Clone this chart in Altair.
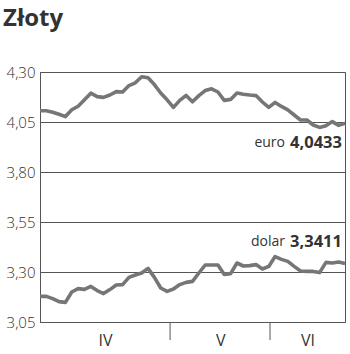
import altair as alt
import pandas as pd

euro = [4.106, 4.106, 4.099, 4.089, 4.077, 4.111, 4.129, 4.161, 4.194, 4.177,
        4.173, 4.185, 4.202, 4.200, 4.232, 4.246, 4.276, 4.271, 4.237, 4.195,
        4.161, 4.123, 4.158, 4.183, 4.151, 4.182, 4.207, 4.216, 4.200, 4.158,
        4.163, 4.195, 4.189, 4.185, 4.182, 4.150, 4.123, 4.148, 4.128, 4.111,
        4.085, 4.060, 4.060, 4.035, 4.023, 4.031, 4.052, 4.033, 4.043]
dolar = [3.178, 3.178, 3.167, 3.152, 3.148, 3.200, 3.217, 3.213, 3.228, 3.207,
         3.192, 3.212, 3.235, 3.237, 3.273, 3.285, 3.295, 3.318, 3.273, 3.220,
         3.203, 3.215, 3.237, 3.248, 3.253, 3.295, 3.335, 3.335, 3.335, 3.288,
         3.292, 3.345, 3.330, 3.332, 3.337, 3.315, 3.328, 3.377, 3.363, 3.353,
         3.328, 3.305, 3.303, 3.303, 3.297, 3.348, 3.345, 3.350, 3.343]
months = ["IV", "V", "VI"]
month_centers = [10.24, 28.35, 42.1]
month_bounds = [20.47, 36.2]
y_ticks = [3.05, 3.30, 3.55, 3.80, 4.05, 4.30]
title_text = "Złoty"

rows = []
for i, v in enumerate(euro):
    rows.append({"day": i, "kurs": v, "waluta": "euro"})
for i, v in enumerate(dolar):
    rows.append({"day": i, "kurs": v, "waluta": "dolar"})
df = pd.DataFrame(rows)

FONT = "Open Sans"

xscale = alt.Scale(domain=[0, 48], nice=False, zero=False)
yscale = alt.Scale(domain=[3.05, 4.30], nice=False, zero=False)

lines = alt.Chart(df).mark_line(color="#767676", strokeWidth=3.6, strokeJoin="round").encode(
    x=alt.X("day:Q", scale=xscale,
            axis=alt.Axis(values=month_centers, title=None, grid=False, domain=False,
                          ticks=False, labelPadding=10, labelFontSize=16,
                          labelColor="#333", labelFont=FONT, labelBaseline="top",
                          labelExpr="datum.value < 20 ? 'IV' : (datum.value < 36 ? 'V' : 'VI')")),
    y=alt.Y("kurs:Q", scale=yscale,
            axis=alt.Axis(values=y_ticks, title=None, grid=True, gridColor="#555",
                          gridWidth=1, domain=True, domainColor="#555", ticks=False,
                          labelPadding=5, labelFontSize=15, labelColor="#333",
                          labelFont=FONT, labelBaseline="middle", labelFontWeight=300,
                          labelExpr="replace(format(datum.value, '.2f'), '.', ',')")),
    detail="waluta:N",
)

bounds_df = pd.DataFrame({"b": month_bounds})
dividers = alt.Chart(bounds_df).mark_rule(color="#555", strokeWidth=1).encode(
    x=alt.X("b:Q", scale=xscale),
    y=alt.value(250), y2=alt.value(268),
)

ann_df = pd.DataFrame({
    "name": ["euro", "dolar"],
    "val": ["4,0433", "3,3411"],
    "py": [71, 170],
})
ann_names = alt.Chart(ann_df).mark_text(align="right", baseline="middle", fontSize=14,
                                        font=FONT, color="#333").encode(
    text="name:N", x=alt.value(245), y=alt.Y("py:Q", scale=None),
)
ann_vals = alt.Chart(ann_df).mark_text(align="right", baseline="middle", fontSize=16.5,
                                       font=FONT, fontWeight="bold", color="#333").encode(
    text="val:N", x=alt.value(302), y=alt.Y("py:Q", scale=None),
)

title = alt.Chart(pd.DataFrame({"t": [title_text]})).mark_text(
    align="left", baseline="alphabetic", fontSize=24, font=FONT, fontWeight="bold",
    color="#333").encode(text="t:N", x=alt.value(-37), y=alt.value(-46))

chart = alt.layer(lines, dividers, ann_names, ann_vals, title).properties(
    width=305, height=250,
    autosize=alt.AutoSizeParams(type="none"),
    padding={"left": 40, "top": 72, "right": 5, "bottom": 32},
).configure_view(stroke="#555", strokeWidth=1)

chart.save("out.html", embed_options={"renderer": "svg", "actions": False})
